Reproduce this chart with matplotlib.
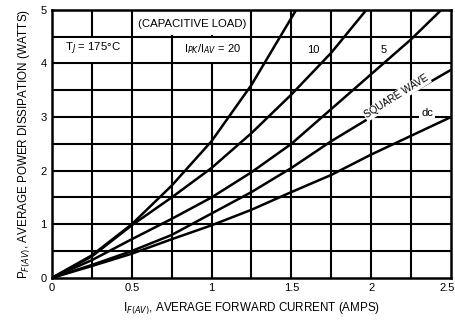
import matplotlib
matplotlib.use("Agg")
import matplotlib.pyplot as plt
import matplotlib.transforms as mtransforms
import numpy as np

plt.rcParams['font.family'] = ['Liberation Sans Narrow', 'Liberation Sans', 'DejaVu Sans']

# Average forward current (A) and power dissipation (W) for each waveform
i_20 = [0.0, 0.25, 0.5, 0.75, 1.0, 1.25, 1.53]
p_20 = [0.0, 0.42, 1.0, 1.72, 2.55, 3.6, 5.0]

i_10 = [0.0, 0.25, 0.5, 0.75, 1.0, 1.25, 1.5, 1.75, 1.97]
p_10 = [0.0, 0.40, 0.98, 1.5, 2.05, 2.7, 3.42, 4.2, 5.0]

i_5 = [0.0, 0.25, 0.5, 0.75, 1.0, 1.25, 1.5, 1.75, 2.0, 2.25, 2.44]
p_5 = [0.0, 0.33, 0.72, 1.1, 1.5, 1.97, 2.5, 3.15, 3.8, 4.45, 5.0]

i_sq = [0.0, 0.25, 0.5, 0.75, 1.0, 1.25, 1.5, 1.75, 2.0, 2.25, 2.5]
p_sq = [0.0, 0.24, 0.5, 0.8, 1.2, 1.6, 2.05, 2.55, 3.0, 3.45, 3.88]

i_dc = [0.0, 0.25, 0.5, 0.75, 1.0, 1.25, 1.5, 1.75, 2.0, 2.25, 2.5]
p_dc = [0.0, 0.22, 0.45, 0.72, 0.98, 1.27, 1.6, 1.92, 2.3, 2.65, 3.0]

x_ticks = [0, 0.5, 1, 1.5, 2, 2.5]
x_tick_labels = ["0", "0.5", "1", "1.5", "2", "2.5"]
y_ticks = [0, 1, 2, 3, 4, 5]
y_tick_labels = ["0", "1", "2", "3", "4", "5"]

fig = plt.figure(figsize=(4.56, 3.28), dpi=100)
ax = fig.add_axes([0.114, 0.153, 0.875, 0.817])
ax.set_xlim(0, 2.5)
ax.set_ylim(0, 5)

# Grid: 0.25 A by 0.5 W
for xv in np.arange(0.25, 2.5, 0.25):
    ax.axvline(xv, color='black', lw=1.5, zorder=1)
for yv in np.arange(0.5, 5.0, 0.5):
    ax.axhline(yv, color='black', lw=1.5, zorder=1)

for xs, ys in [(i_20, p_20), (i_10, p_10), (i_5, p_5), (i_sq, p_sq), (i_dc, p_dc)]:
    ax.plot(xs, ys, color='black', lw=1.8, zorder=3, solid_joinstyle='round')

for s in ax.spines.values():
    s.set_linewidth(1.8)

ax.set_xticks(x_ticks)
ax.set_xticklabels(x_tick_labels, fontsize=8)
ax.set_yticks(y_ticks)
ax.set_yticklabels(y_tick_labels, fontsize=8)
ax.tick_params(length=0, pad=4)
last = ax.get_xticklabels()[-1]
last.set_transform(last.get_transform() + mtransforms.ScaledTranslation(-0.04, 0, fig.dpi_scale_trans))

# Label boxes over the grid
box = dict(facecolor='white', edgecolor='none', pad=1.2)
ax.add_patch(plt.Rectangle((0.53, 4.53), 0.70, 0.44, facecolor='white', edgecolor='none', zorder=2))
ax.add_patch(plt.Rectangle((0.02, 4.03), 0.46, 0.44, facecolor='white', edgecolor='none', zorder=2))
ax.add_patch(plt.Rectangle((0.78, 4.03), 0.45, 0.44, facecolor='white', edgecolor='none', zorder=2))
ax.text(0.88, 4.74, "(CAPACITIVE LOAD)", fontsize=8.2, ha='center', va='center', zorder=4)
ax.text(0.26, 4.28, "T$_J$ = 175°C", fontsize=8.2, ha='center', va='center', zorder=4)
ax.text(0.83, 4.26, "I$_{PK}$/I$_{AV}$ = 20", fontsize=8, ha='left', va='center', zorder=4)
ax.text(1.64, 4.26, "10", fontsize=8, ha='center', va='center', zorder=4, bbox=box)
ax.text(2.08, 4.26, "5", fontsize=8, ha='center', va='center', zorder=4, bbox=box)
ax.text(2.35, 3.07, "dc", fontsize=8, ha='center', va='center', zorder=4, bbox=box)
ax.text(2.16, 3.38, "SQUARE WAVE", fontsize=7.2, ha='center', va='center',
        rotation=32, zorder=4, bbox=dict(facecolor='white', edgecolor='none', pad=0.8))

ax.set_xlabel("I$_{F(AV)}$, AVERAGE FORWARD CURRENT (AMPS)", fontsize=8.4, labelpad=5)
ax.set_ylabel("P$_{F(AV)}$, AVERAGE POWER DISSIPATION (WATTS)", fontsize=8.4, labelpad=5)

fig.savefig("out.png", dpi=100)
